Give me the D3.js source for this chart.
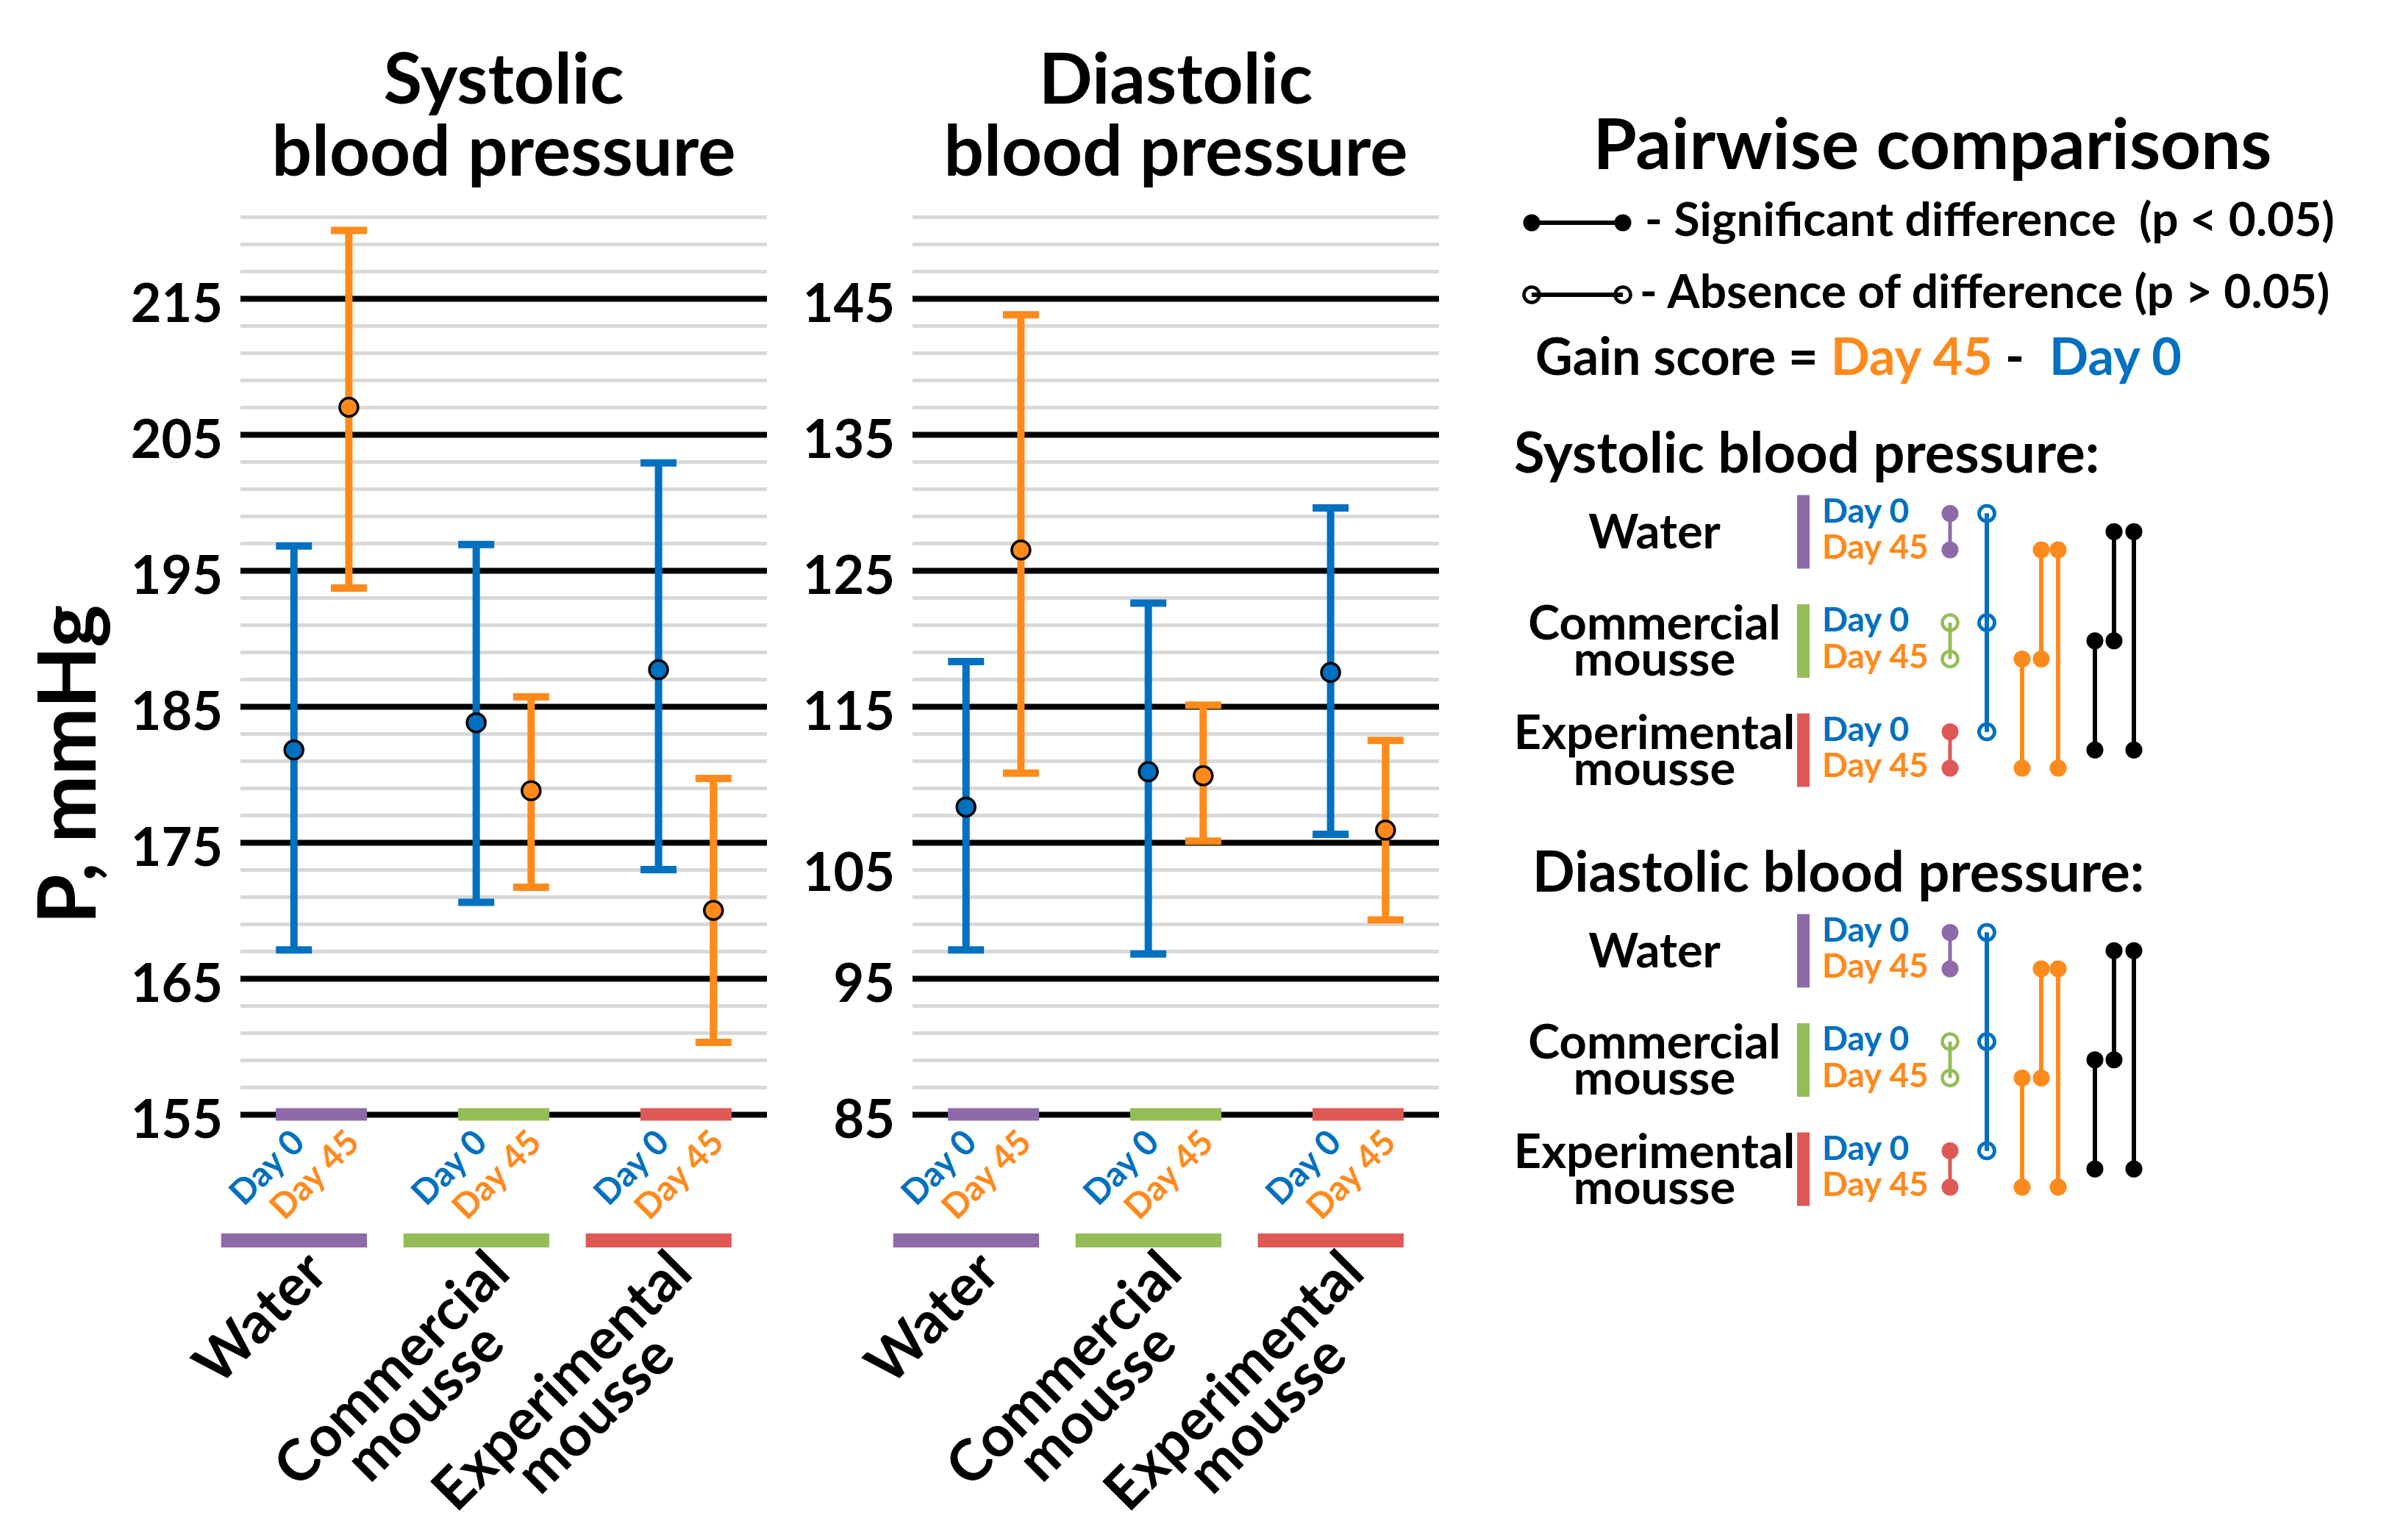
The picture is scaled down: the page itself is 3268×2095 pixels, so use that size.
<!DOCTYPE html>
<html>
<head>
<meta charset="utf-8">
<script src="https://cdn.jsdelivr.net/npm/d3@7"></script>
<style>
html, body { margin: 0; padding: 0; background: #fff; }
text { font-family: Lato, 'Open Sans', sans-serif; font-weight: 700; }
</style>
</head>
<body>
<svg id="chart"></svg>
<script>
const W = 3268, H = 2095;

// categories
const groups = ['Water', 'Commercial mousse', 'Experimental mousse'];
const groupLines = [['Water'], ['Commercial', 'mousse'], ['Experimental', 'mousse']];
const days = ['Day 0', 'Day 45'];
const groupColors = ['#8E6AA8', '#94BD58', '#DE5956'];
const dayColors = ['#0070C0', '#FF8A1C'];

// axis ticks
const sysTicks = [155, 165, 175, 185, 195, 205, 215];
const sysDomain = [155, 221];
const diaTicks = [85, 95, 105, 115, 125, 135, 145];
const diaDomain = [85, 151];

// systolic: mean and interval, per group (Water, Commercial, Experimental)
const sysMeanDay0 = [181.8, 183.8, 187.7];
const sysLowDay0 = [167.1, 170.6, 173.0];
const sysHighDay0 = [196.8, 196.9, 202.9];
const sysMeanDay45 = [207.0, 178.8, 170.0];
const sysLowDay45 = [193.7, 171.7, 160.3];
const sysHighDay45 = [220.0, 185.7, 179.7];

// diastolic
const diaMeanDay0 = [107.6, 110.2, 117.5];
const diaLowDay0 = [97.1, 96.8, 105.6];
const diaHighDay0 = [118.3, 122.6, 129.6];
const diaMeanDay45 = [126.5, 109.9, 105.9];
const diaLowDay45 = [110.1, 105.1, 99.3];
const diaHighDay45 = [143.8, 115.1, 112.5];

// pairwise comparisons: [group a, group b, significant, column]
const sysWithin = [true, false, true];
const sysDay0Comp = [[0, 1, false, 0], [1, 2, false, 0], [0, 2, false, 0]];
const sysDay45Comp = [[1, 2, true, 0], [0, 1, true, 1], [0, 2, true, 2]];
const sysGainComp = [[1, 2, true, 0], [0, 1, true, 1], [0, 2, true, 2]];
const diaWithin = [true, false, true];
const diaDay0Comp = [[0, 1, false, 0], [1, 2, false, 0], [0, 2, false, 0]];
const diaDay45Comp = [[1, 2, true, 0], [0, 1, true, 1], [0, 2, true, 2]];
const diaGainComp = [[1, 2, true, 0], [0, 1, true, 1], [0, 2, true, 2]];

const svg = d3.select('#chart')
    .attr('width', W)
    .attr('height', H);
svg.append('rect').attr('width', W).attr('height', H).attr('fill', '#fff');

const plotTop = 295, plotBottom = 1516, plotW = 716;

// labelShift: tick value -> extra downward shift of its label (the 105 label sits lower in the original)
const drawPanel = (left, titleLines, domain, ticks, means, lows, highs, showYTitle, labelShift) => {
    const g = svg.append('g');
    const y = d3.scaleLinear().domain(domain).range([plotBottom, plotTop]);
    const x = d3.scaleBand().domain(groups).range([left, left + plotW])
        .paddingInner(0.5).paddingOuter(0.194);
    const xDay = d3.scalePoint().domain(days).range([0, x.bandwidth()]).padding(0.33);
    const bw = x.bandwidth();

    // grid
    const minor = d3.range(domain[0], domain[1] + 0.1, 2).filter(v => (v - domain[0]) % 10 !== 0);
    g.append('g')
        .attr('transform', `translate(${left},0)`)
        .call(d3.axisLeft(y).tickValues(minor).tickSize(-plotW).tickFormat(''))
        .call(a => a.select('.domain').remove())
        .call(a => a.selectAll('text').remove())
        .selectAll('line').attr('stroke', '#d9d9d9').attr('stroke-width', 5);
    g.append('g')
        .attr('transform', `translate(${left},0)`)
        .call(d3.axisLeft(y).tickValues(ticks).tickSize(-plotW).tickFormat(''))
        .call(a => a.select('.domain').remove())
        .call(a => a.selectAll('text').remove())
        .selectAll('line').attr('stroke', '#000').attr('stroke-width', 8);
    g.append('g')
        .attr('transform', `translate(${left},0)`)
        .call(d3.axisLeft(y).tickValues(ticks).tickSize(0).tickPadding(24))
        .call(a => a.select('.domain').remove())
        .selectAll('text')
        .attr('font-size', 72)
        .attr('fill', '#000')
        .attr('dy', d => (labelShift[d] || 0) + 31);

    // title
    g.append('text')
        .attr('text-anchor', 'middle')
        .attr('font-size', 96)
        .selectAll('tspan')
        .data(titleLines)
        .join('tspan')
        .attr('x', left + plotW / 2)
        .attr('y', (d, i) => 141 + i * 98)
        .text(d => d);

    // group bars on the baseline
    g.selectAll('.gbar')
        .data(groups)
        .join('rect')
        .attr('x', d => x(d))
        .attr('y', y(domain[0]) - 8.5)
        .attr('width', bw)
        .attr('height', 17)
        .attr('fill', (d, i) => groupColors[i]);

    // error bars
    const pts = [];
    groups.forEach((gr, i) => {
        days.forEach((day, j) => {
            pts.push({ gr, day, j, mean: means[j][i], lo: lows[j][i], hi: highs[j][i] });
        });
    });
    const eb = g.selectAll('.eb')
        .data(pts)
        .join('g')
        .attr('transform', d => `translate(${x(d.gr) + xDay(d.day)},0)`);
    eb.append('line')
        .attr('y1', d => y(d.lo)).attr('y2', d => y(d.hi))
        .attr('stroke', d => dayColors[d.j]).attr('stroke-width', 10);
    eb.append('line')
        .attr('x1', -24.5).attr('x2', 24.5)
        .attr('y1', d => y(d.hi)).attr('y2', d => y(d.hi))
        .attr('stroke', d => dayColors[d.j]).attr('stroke-width', 10);
    eb.append('line')
        .attr('x1', -24.5).attr('x2', 24.5)
        .attr('y1', d => y(d.lo)).attr('y2', d => y(d.lo))
        .attr('stroke', d => dayColors[d.j]).attr('stroke-width', 10);
    eb.append('circle')
        .attr('cy', d => y(d.mean))
        .attr('r', 12.5)
        .attr('fill', d => dayColors[d.j])
        .attr('stroke', '#000')
        .attr('stroke-width', 3.5);

    // day labels
    g.selectAll('.dlab')
        .data(pts)
        .join('text')
        .attr('transform', d => `translate(${x(d.gr) + xDay(d.day) + 17},1557) rotate(-45)`)
        .attr('text-anchor', 'end')
        .attr('font-size', 47)
        .attr('fill', d => dayColors[d.j])
        .text(d => d.day);

    // lower group bars
    g.selectAll('.lbar')
        .data(groups)
        .join('rect')
        .attr('x', d => x(d) - 0.6 * bw)
        .attr('y', 1678)
        .attr('width', 1.6 * bw)
        .attr('height', 19)
        .attr('fill', (d, i) => groupColors[i]);

    // category labels
    groups.forEach((gr, i) => {
        const t = g.append('text')
            .attr('transform', `translate(${x(gr) + bw / 2 + 12},1735) rotate(-45)`)
            .attr('font-size', 78)
            .attr('text-anchor', 'middle');
        const spans = t.selectAll('tspan')
            .data(groupLines[i])
            .join('tspan')
            .attr('y', (d, k) => k * 64)
            .text(d => d);
        const maxW = d3.max(spans.nodes(), n => n.getComputedTextLength());
        spans.attr('x', -maxW / 2);
    });

    if (showYTitle) {
        svg.append('text')
            .attr('transform', 'translate(130,1040) rotate(-90)')
            .attr('text-anchor', 'middle')
            .attr('font-size', 110)
            .text('P, mmHg');
    }
};

drawPanel(327, ['Systolic', 'blood pressure'], sysDomain, sysTicks,
    [sysMeanDay0, sysMeanDay45], [sysLowDay0, sysLowDay45], [sysHighDay0, sysHighDay45], true, {});
drawPanel(1241, ['Diastolic', 'blood pressure'], diaDomain, diaTicks,
    [diaMeanDay0, diaMeanDay45], [diaLowDay0, diaLowDay45], [diaHighDay0, diaHighDay45], false, { 105: 34 });

// ---- pairwise comparisons legend ----
const lg = svg.append('g');
lg.append('text')
    .attr('x', 2628).attr('y', 230)
    .attr('text-anchor', 'middle')
    .attr('font-size', 96)
    .text('Pairwise comparisons');

const keyRows = [
    { y: 303, filled: true, tx: 2237, label: '- Significant difference  (p < 0.05)' },
    { y: 401, filled: false, tx: 2230, label: '- Absence of difference (p > 0.05)' }
];
keyRows.forEach(k => {
    lg.append('line')
        .attr('x1', 2083).attr('x2', 2207)
        .attr('y1', k.y).attr('y2', k.y)
        .attr('stroke', '#000').attr('stroke-width', 6);
    [2083, 2207].forEach(cx => {
        lg.append('circle')
            .attr('cx', cx).attr('cy', k.y)
            .attr('r', k.filled ? 11.5 : 10.5)
            .attr('fill', k.filled ? '#000' : 'none')
            .attr('stroke', '#000')
            .attr('stroke-width', k.filled ? 0 : 4.5);
    });
    lg.append('text')
        .attr('x', k.tx).attr('y', k.y + 18)
        .attr('font-size', 64)
        .style('white-space', 'pre')
        .text(k.label);
});

const gain = lg.append('text')
    .attr('x', 2088).attr('y', 510)
    .attr('font-size', 70)
    .style('white-space', 'pre');
gain.append('tspan').text('Gain score = ');
gain.append('tspan').attr('fill', dayColors[1]).text('Day 45');
gain.append('tspan').text(' -  ');
gain.append('tspan').attr('fill', dayColors[0]).text('Day 0');

const drawCompare = (top, title, titleX, within, day0Comp, day45Comp, gainComp) => {
    const g = lg.append('g');
    const rowG = d3.scalePoint().domain(groups).range([top, top + 297]);
    const rowD = d3.scalePoint().domain(days).range([0, 49.5]);
    const rowY = (gi, di) => rowG(groups[gi]) + rowD(days[di]);
    const midY = gi => rowG(groups[gi]) + 24.75;

    g.append('text')
        .attr('x', titleX).attr('y', top - 55.5)
        .attr('font-size', 76)
        .text(title);

    groups.forEach((gr, i) => {
        const lines = groupLines[i];
        g.append('text')
            .attr('text-anchor', 'middle')
            .attr('font-size', 65)
            .selectAll('tspan')
            .data(lines)
            .join('tspan')
            .attr('x', 2250)
            .attr('y', (d, k) => midY(i) + 22.75 - (lines.length - 1) * 24.5 + k * 49)
            .text(d => d);
        g.append('rect')
            .attr('x', 2444).attr('y', rowY(i, 0) - 25)
            .attr('width', 17).attr('height', 100)
            .attr('fill', groupColors[i]);
        days.forEach((day, j) => {
            g.append('text')
                .attr('x', 2478).attr('y', rowY(i, j) + 12)
                .attr('font-size', 46)
                .attr('fill', dayColors[j])
                .text(day);
        });
    });

    const pair = (cx, y1, y2, sig, color, lw) => {
        g.append('line')
            .attr('x1', cx).attr('x2', cx)
            .attr('y1', y1).attr('y2', y2)
            .attr('stroke', color).attr('stroke-width', lw);
        [y1, y2].forEach(cy => {
            g.append('circle')
                .attr('cx', cx).attr('cy', cy)
                .attr('r', sig ? 11.5 : 10.5)
                .attr('fill', sig ? color : 'none')
                .attr('stroke', color)
                .attr('stroke-width', sig ? 0 : 4.5);
        });
    };

    // Day 0 vs Day 45 within each group
    within.forEach((sig, i) => pair(2652, rowY(i, 0), rowY(i, 1), sig, groupColors[i], 5));
    // Day 0 across groups
    day0Comp.forEach(c => pair(2702, rowY(c[0], 0), rowY(c[1], 0), c[2], dayColors[0], 6));
    // Day 45 across groups
    const day45X = [2750, 2776, 2799];
    day45Comp.forEach(c => pair(day45X[c[3]], rowY(c[0], 1), rowY(c[1], 1), c[2], dayColors[1], 6));
    // gain score across groups
    const gainX = [2849, 2875, 2902];
    gainComp.forEach(c => pair(gainX[c[3]], midY(c[0]), midY(c[1]), c[2], '#000', 6));
};

drawCompare(698.5, 'Systolic blood pressure:', 2059, sysWithin, sysDay0Comp, sysDay45Comp, sysGainComp);
drawCompare(1268.5, 'Diastolic blood pressure:', 2084, diaWithin, diaDay0Comp, diaDay45Comp, diaGainComp);
</script>
</body>
</html>
